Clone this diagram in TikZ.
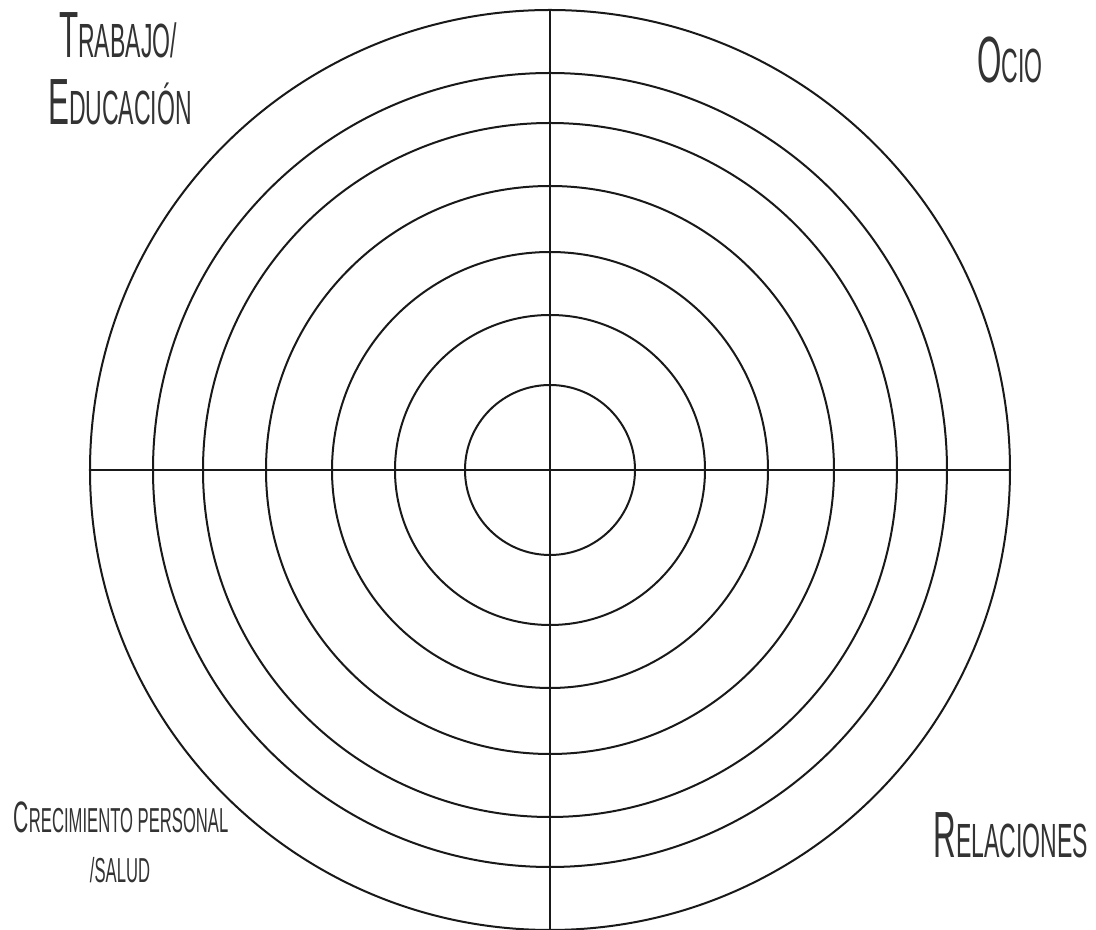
\documentclass[tikz,border=0pt]{standalone}
\usepackage{fontspec}
\newfontfamily\fuenterotulo[FakeStretch=0.48]{Liberation Sans}
% versalitas hechas a mano: inicial grande, resto en mayusculas chicas
\newcommand\versalgrande[2]{{\fontsize{49pt}{49pt}\selectfont #1}{\fontsize{36pt}{36pt}\selectfont #2}}
\newcommand\versalchica[2]{{\fontsize{33pt}{33pt}\selectfont #1}{\fontsize{26pt}{26pt}\selectfont #2}}

\begin{document}
\begin{tikzpicture}[x=0.75pt, y=0.75pt,
  anillo/.style={draw=black!90, line width=1.5pt},
  eje/.style={draw=black!90, line width=1.2pt},
  rotulo/.style={anchor=base, inner sep=0pt, font=\fuenterotulo, text=black!80}]

  \useasboundingbox (-550,-460) rectangle (546,470);
  \coordinate (c) at (0,0);

  % anillos de la rueda
  \foreach \r in {460,397,347,284,218,155,85}
    \draw[anillo] (c) circle[radius=\r*0.75pt];

  % ejes
  \coordinate (izq) at (-460,0);
  \coordinate (der) at (460,0);
  \coordinate (arriba) at (0,460);
  \coordinate (abajo) at (0,-460);
  \draw[eje] (izq) -- (der);
  \draw[eje] (arriba) -- (abajo);

  % areas
  \node[rotulo] (trabajo) at (-432,412) {\versalgrande{T}{RABAJO/}};
  \node[rotulo] (educacion) at (-430,345) {\versalgrande{E}{DUCACIÓN}};
  \node[rotulo] (ocio) at (460,387) {\versalgrande{O}{CIO}};
  \node[rotulo] (relaciones) at (461,-388) {\versalgrande{R}{ELACIONES}};
  \node[rotulo] (crecimiento) at (-429,-363) {\versalchica{C}{RECIMIENTO PERSONAL}};
  \node[rotulo] (salud) at (-430,-413) {\versalchica{}{/SALUD}};
\end{tikzpicture}
\end{document}
